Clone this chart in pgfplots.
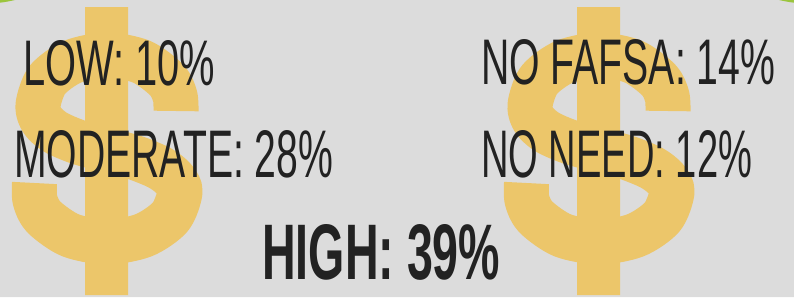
\documentclass[border=0pt]{standalone}
\usepackage{pgfplots}
\usepackage{pgfplotstable}
\pgfplotsset{compat=1.18}
\usepackage{fontspec}
\setmainfont{Liberation Sans}
\definecolor{bg}{HTML}{DCDCDC}
\definecolor{gold}{HTML}{ECC66A}
\definecolor{ink}{HTML}{222222}
\definecolor{lime}{HTML}{9BC53D}
% centre line of the S of the dollar sign (picture pixels, y downwards)
\pgfplotstableread{
x y
176 111
175 96
166.8 80
141.5 61.7
107 55
72.5 61.7
47.2 80
38 105
42 120
55 132
78 142
107 150
136 158
160 168
174 179
180 192
170.2 217
143.5 235.3
107 242
70.5 235.3
43.8 217
35 200
34.5 183
}\sshape
\begin{document}
\begin{tikzpicture}
\begin{axis}[
  width=794pt, height=297pt, scale only axis,
  xmin=0, xmax=794, ymin=0, ymax=297, y dir=reverse,
  hide axis, clip=true,
]
\addplot[fill=bg, draw=none] coordinates {(0,0) (794,0) (794,297) (0,297) (0,0)};
\fill[lime] (axis cs:-20,-150) circle[radius=154pt];
\fill[lime] (axis cs:814,-150) circle[radius=154pt];
% left dollar sign
\addplot[fill=gold, draw=none] coordinates {(85,7) (128,7) (128,295) (85,295) (85,7)};
\addplot[gold, line width=45pt, smooth, line cap=butt, line join=round] table[x=x, y=y] {\sshape};
% right dollar sign
\addplot[fill=gold, draw=none] coordinates {(577,7) (620,7) (620,295) (577,295) (577,7)};
\addplot[gold, line width=45pt, smooth, line cap=butt, line join=round] table[x expr=\thisrow{x}+492, y=y] {\sshape};
% labels
\node[anchor=north west, inner sep=0pt, text=ink] at (axis cs:23,40) {\resizebox{192pt}{45pt}{LOW: 10\%}};
\node[anchor=north west, inner sep=0pt, text=ink] at (axis cs:481,39) {\resizebox{294pt}{45pt}{NO FAFSA: 14\%}};
\node[anchor=north west, inner sep=0pt, text=ink] at (axis cs:14,130) {\resizebox{319pt}{47pt}{MODERATE: 28\%}};
\node[anchor=north west, inner sep=0pt, text=ink] at (axis cs:481,130) {\resizebox{271pt}{47pt}{NO NEED: 12\%}};
\node[anchor=north west, inner sep=0pt, text=ink] at (axis cs:262,224) {\resizebox{238pt}{55pt}{\bfseries HIGH: 39\%}};
\end{axis}
\end{tikzpicture}
\end{document}
